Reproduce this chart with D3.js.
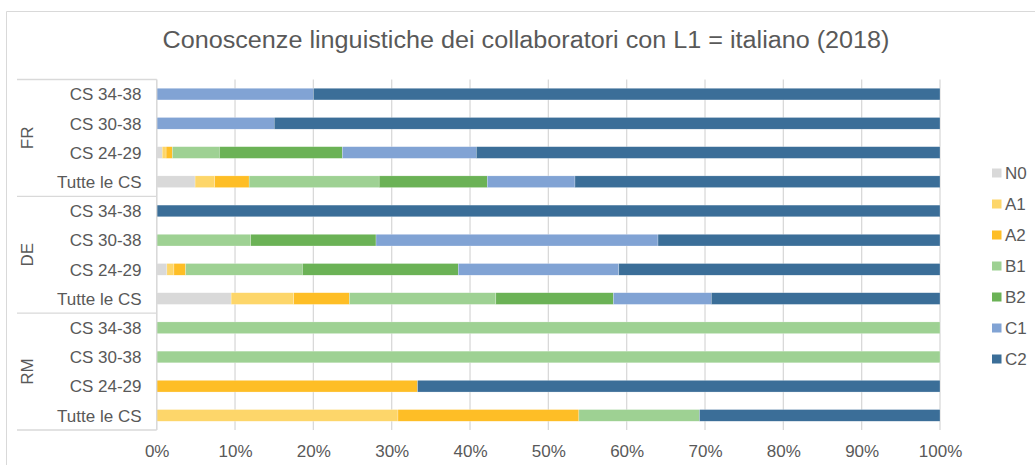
<!DOCTYPE html>
<html><head><meta charset="utf-8">
<script src="https://cdn.jsdelivr.net/npm/d3@7"></script>
<style>
html,body{margin:0;padding:0;background:#fff;}
svg text{font-family:"Liberation Sans",Arial,sans-serif;fill:#595959;}
</style></head>
<body><svg id="c" width="1035" height="465"></svg>
<script>
const title = "Conoscenze linguistiche dei collaboratori con L1 = italiano (2018)";
const groups = ["FR","DE","RM"];
const classes = ["CS 34-38","CS 30-38","CS 24-29","Tutte le CS"];
const levels = ["N0","A1","A2","B1","B2","C1","C2"];
const colors = ["#d9d9d9","#fdd66a","#febe26","#9ed193","#6bb256","#81a3d4","#3b6e98"];
// series values (%), rows: FR 34-38, FR 30-38, FR 24-29, FR Tutte, DE ..., RM ...
const N0 = [0,0,0.7,4.9, 0,0,1.3,9.5, 0,0,0,0];
const A1 = [0,0,0.5,2.5, 0,0,0.9,8.0, 0,0,0,30.8];
const A2 = [0,0,0.8,4.4, 0,0,1.5,7.1, 0,0,33.3,23.1];
const B1 = [0,0,6.0,16.6, 0,12,14.9,18.7, 100,100,0,15.4];
const B2 = [0,0,15.7,13.8, 0,16,19.9,15.0, 0,0,0,0];
const C1 = [20,15,17.1,11.2, 0,36,20.5,12.5, 0,0,0,0];
const C2 = [80,85,59.2,46.6, 100,36,41.0,29.2, 0,0,66.7,30.7];
const xTicks = [0,10,20,30,40,50,60,70,80,90,100];

const series = {N0,A1,A2,B1,B2,C1,C2};
const rows = [];
groups.forEach((g,gi)=>classes.forEach((c,ci)=>{
  const r = {key:g+"|"+c, group:g, cls:c};
  levels.forEach(l=>r[l]=series[l][gi*classes.length+ci]);
  rows.push(r);
}));

const svg = d3.select("#c");
const x = d3.scaleLinear().domain([0,100]).range([156.7,940]);
const y = d3.scaleBand().domain(rows.map(r=>r.key)).range([79.5,430]).paddingInner(0.6).paddingOuter(0.3);
const color = d3.scaleOrdinal().domain(levels).range(colors);

// outer frame
svg.append("path").attr("d","M6.5,465 V11.5 H1035").attr("fill","none").attr("stroke","#d9d9d9").attr("stroke-width",1);

// title
svg.append("text").attr("x",162.5).attr("y",47.7).attr("text-anchor","start")
  .attr("textLength",727).attr("lengthAdjust","spacingAndGlyphs")
  .style("font-size","23px").text(title);

// gridlines
svg.append("g").selectAll("line").data(xTicks).join("line")
  .attr("x1",d=>x(d)).attr("x2",d=>x(d)).attr("y1",79.5).attr("y2",430)
  .attr("stroke","#d9d9d9").attr("stroke-width",1.3);

// bars
const stack = d3.stack().keys(levels)(rows);
svg.append("g").selectAll("g").data(stack).join("g")
  .attr("fill",d=>color(d.key))
  .selectAll("rect").data(d=>d.filter(s=>s[1]-s[0]>0)).join("rect")
  .attr("x",d=>x(d[0])).attr("width",d=>x(d[1])-x(d[0]))
  .attr("y",d=>y(d.data.key)).attr("height",y.bandwidth())
  .attr("stroke","#ffffff").attr("stroke-width",0.4).attr("stroke-opacity",0.6);

// x axis labels
const xAxis = d3.axisBottom(x).tickValues(xTicks).tickFormat(d=>d+"%").tickSize(0).tickPadding(0);
const gx = svg.append("g").attr("transform","translate(0,440)").call(xAxis);
gx.select(".domain").remove();
gx.selectAll("text").attr("dy",null).attr("y",16.5).style("font-size","17px").style("fill","#595959")
  .style("font-family","\"Liberation Sans\",Arial,sans-serif");

// category axis frame
const cat = svg.append("g").attr("stroke","#d9d9d9").attr("stroke-width",1.3);
cat.append("line").attr("x1",x(0)).attr("x2",x(0)).attr("y1",79.5).attr("y2",430);
const step = y.step();
[0,4,8,12].forEach(i=>{
  const yy = 79.5 + i*step;
  cat.append("line").attr("x1",17).attr("x2",x(0)).attr("y1",yy).attr("y2",yy);
});

// row labels
svg.append("g").selectAll("text").data(rows).join("text")
  .attr("x",141.5).attr("y",d=>y(d.key)+y.bandwidth()/2+6.3)
  .attr("text-anchor","end").style("font-size","17px").text(d=>d.cls);

// group labels
svg.append("g").selectAll("text").data(groups).join("text")
  .attr("transform",(g,i)=>`translate(33,${79.5+(i*4+2)*step}) rotate(-90)`)
  .attr("text-anchor","middle").style("font-size","17px").text(d=>d);

// legend
const lg = svg.append("g").selectAll("g").data(levels).join("g")
  .attr("transform",(d,i)=>`translate(992,${173+i*31})`);
lg.append("rect").attr("x",0).attr("y",-4.5).attr("width",9.5).attr("height",9).attr("fill",d=>color(d));
lg.append("text").attr("x",13).attr("y",6).style("font-size","17px").text(d=>d);
</script></body></html>
